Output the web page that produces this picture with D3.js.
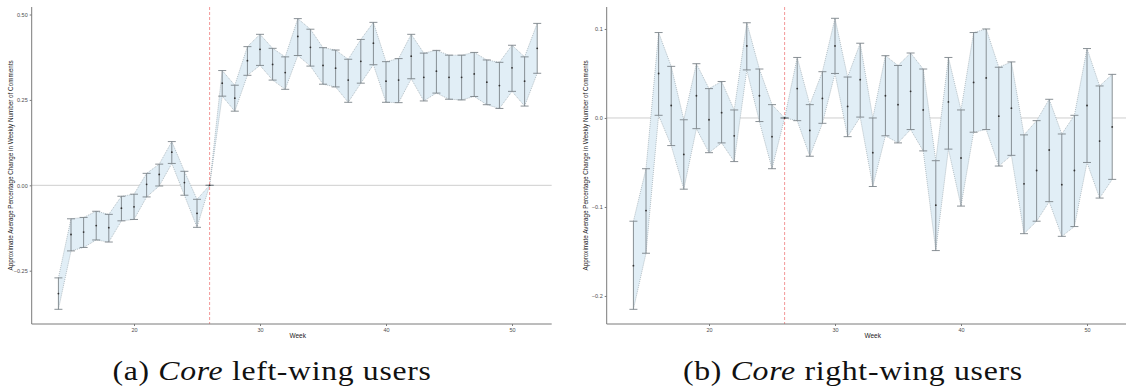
<!DOCTYPE html>
<html>
<head>
<meta charset="utf-8">
<script src="https://cdn.jsdelivr.net/npm/d3@7"></script>
<style>
  html, body { margin: 0; padding: 0; background: #fff; }
  svg { display: block; }
</style>
</head>
<body>
<svg id="chart" width="1126" height="392"></svg>
<script>
// Weekly estimates with confidence bounds, weeks 14..52
const weeks = d3.range(14, 53);

const leftMid = [-0.317,-0.144,-0.137,-0.118,-0.124,-0.067,-0.063,0.003,0.032,0.097,0.008,-0.082,0,
  0.299,0.255,0.365,0.398,0.354,0.330,0.436,0.404,0.351,0.343,0.308,0.363,0.416,0.305,0.308,0.378,
  0.316,0.334,0.316,0.316,0.326,0.302,0.292,0.344,0.305,0.401];
const leftUpper = [-0.271,-0.098,-0.094,-0.076,-0.085,-0.032,-0.026,0.035,0.062,0.128,0.041,-0.041,0,
  0.336,0.293,0.406,0.442,0.401,0.376,0.488,0.457,0.403,0.396,0.369,0.427,0.477,0.362,0.371,0.442,
  0.387,0.395,0.381,0.381,0.389,0.367,0.360,0.410,0.376,0.474];
const leftLower = [-0.363,-0.192,-0.182,-0.160,-0.166,-0.104,-0.100,-0.034,-0.002,0.064,-0.029,-0.123,0,
  0.261,0.217,0.322,0.351,0.308,0.281,0.380,0.349,0.296,0.288,0.243,0.299,0.353,0.243,0.242,0.312,
  0.247,0.270,0.252,0.250,0.260,0.236,0.225,0.275,0.232,0.328];

const rightMid = [-0.166,-0.104,0.050,0.014,-0.041,0.025,-0.002,0.006,-0.020,0.081,0.025,-0.021,0,
  0.033,-0.014,0.022,0.081,0.013,0.043,-0.039,0.025,0.015,0.030,0.009,-0.098,0.018,-0.045,0.040,0.045,
  0.002,0.011,-0.074,-0.059,-0.036,-0.075,-0.059,0.014,-0.026,-0.010];
const rightUpper = [-0.116,-0.057,0.096,0.058,-0.002,0.061,0.033,0.041,0.009,0.107,0.055,0.015,0,
  0.068,0.015,0.052,0.112,0.046,0.084,0.000,0.070,0.059,0.073,0.055,-0.048,0.068,0.009,0.096,0.100,
  0.057,0.063,-0.019,-0.003,0.021,-0.018,0.003,0.078,0.036,0.049];
const rightLower = [-0.215,-0.152,0.003,-0.031,-0.080,-0.012,-0.039,-0.028,-0.049,0.054,-0.004,-0.057,0,
  -0.003,-0.043,-0.006,0.050,-0.021,0.001,-0.077,-0.020,-0.028,-0.013,-0.037,-0.149,-0.035,-0.099,-0.016,-0.013,
  -0.054,-0.042,-0.130,-0.116,-0.094,-0.133,-0.122,-0.050,-0.090,-0.069];

const xTicks = [20, 30, 40, 50];
const leftTicks = [-0.25, 0, 0.25, 0.5];
const rightTicks = [-0.2, -0.1, 0, 0.1];
const treatmentWeek = 26;

const yTitle = "Approximate Average Percentage Change in Weekly Number of Comments";
const xTitle = "Week";

const svg = d3.select("#chart");

function panel(opts) {
  const {x0, x1, yDomain, mid, upper, lower, ticks, fmt, caption, letter} = opts;
  const top = 7, bottom = 324;
  const x = d3.scaleLinear().domain([11.88, 53.15]).range([x0, x1]);
  const y = d3.scaleLinear().domain(yDomain).range([bottom, top]);
  const g = svg.append("g");
  const rows = weeks.map((w, i) => ({w, m: mid[i], hi: upper[i], lo: lower[i]}));

  // zero reference line
  g.append("line")
    .attr("x1", x0).attr("x2", x1)
    .attr("y1", y(0)).attr("y2", y(0))
    .attr("stroke", "#cfcfcf").attr("stroke-width", 1);

  // confidence ribbon
  const area = d3.area().x(d => x(d.w)).y0(d => y(d.lo)).y1(d => y(d.hi));
  g.append("path").datum(rows)
    .attr("d", area)
    .attr("fill", "#e1eef6").attr("stroke", "none");
  const edge = key => d3.line().x(d => x(d.w)).y(d => y(d[key]));
  ["hi", "lo"].forEach(k => {
    g.append("path").datum(rows)
      .attr("d", edge(k))
      .attr("fill", "none").attr("stroke", "#9aa6ad")
      .attr("stroke-width", 0.7).attr("stroke-dasharray", "1,1");
  });

  // treatment week marker
  g.append("line")
    .attr("x1", x(treatmentWeek)).attr("x2", x(treatmentWeek))
    .attr("y1", top).attr("y2", bottom)
    .attr("stroke", "#f08a8a").attr("stroke-width", 0.9)
    .attr("stroke-dasharray", "3,2");

  // error bars
  const eb = g.append("g").attr("stroke", "#7d858a").attr("stroke-width", 0.9);
  rows.forEach(d => {
    const cx = x(d.w);
    eb.append("line").attr("x1", cx).attr("x2", cx).attr("y1", y(d.lo)).attr("y2", y(d.hi));
    eb.append("line").attr("x1", cx - 4).attr("x2", cx + 4).attr("y1", y(d.lo)).attr("y2", y(d.lo));
    eb.append("line").attr("x1", cx - 4).attr("x2", cx + 4).attr("y1", y(d.hi)).attr("y2", y(d.hi));
  });
  g.append("g").selectAll("circle").data(rows).join("circle")
    .attr("cx", d => x(d.w)).attr("cy", d => y(d.m)).attr("r", 0.9)
    .attr("fill", "#333");

  // axes
  const xAxis = g.append("g").attr("transform", `translate(0,${bottom})`)
    .call(d3.axisBottom(x).tickValues(xTicks).tickSize(2).tickPadding(2).tickFormat(d3.format("d")));
  const yAxis = g.append("g").attr("transform", `translate(${x0},0)`)
    .call(d3.axisLeft(y).tickValues(ticks).tickSize(2).tickPadding(2).tickFormat(fmt));
  [xAxis, yAxis].forEach(a => {
    a.select(".domain").attr("stroke", "#7a7a7a").attr("stroke-width", 1);
    a.selectAll(".tick line").attr("stroke", "#7a7a7a");
    a.selectAll(".tick text").attr("fill", "#4d4d4d")
      .style("font-family", "'Liberation Sans', Arial, sans-serif").style("font-size", "5.5px");
  });
  xAxis.select(".domain").attr("d", `M${x0},0H${x1}`);
  yAxis.select(".domain").attr("d", `M0,${top}V${bottom}`);

  // axis titles
  g.append("text")
    .attr("x", (x0 + x1) / 2 + 6).attr("y", 338)
    .attr("text-anchor", "middle")
    .style("font-family", "'Liberation Sans', Arial, sans-serif").style("font-size", "6.5px")
    .attr("fill", "#222").text(xTitle);
  g.append("text")
    .attr("transform", `translate(${x0 - 19},${(top + bottom) / 2}) rotate(-90)`)
    .attr("text-anchor", "middle")
    .style("font-family", "'Liberation Sans', Arial, sans-serif").style("font-size", "6.3px")
    .attr("fill", "#222").text(yTitle);

  // sub-caption, widened horizontally to the caption block width
  const capG = svg.append("g");
  const cap = capG.append("text")
    .attr("x", 0).attr("y", 0)
    .style("font-family", "'Liberation Serif', 'Times New Roman', serif")
    .style("font-size", "28px").style("letter-spacing", "0.6px")
    .attr("fill", "#111");
  cap.append("tspan").text(`(${letter}) `);
  cap.append("tspan").style("font-style", "italic").text("Core");
  cap.append("tspan").text(caption);
  const w = cap.node().getComputedTextLength();
  const sx = opts.capW / w;
  capG.attr("transform", `translate(${opts.capX},380) scale(${sx},1)`);
}

panel({x0: 31.7, x1: 551.7, yDomain: [-0.406, 0.522], mid: leftMid, upper: leftUpper, lower: leftLower,
  ticks: leftTicks, fmt: d3.format(".2f"), letter: "a", caption: " left-wing users", capX: 112.5, capW: 319});
panel({x0: 606.7, x1: 1126.7, yDomain: [-0.2315, 0.1247], mid: rightMid, upper: rightUpper, lower: rightLower,
  ticks: rightTicks, fmt: d3.format(".1f"), letter: "b", caption: " right-wing users", capX: 683, capW: 340});
</script>
</body>
</html>
